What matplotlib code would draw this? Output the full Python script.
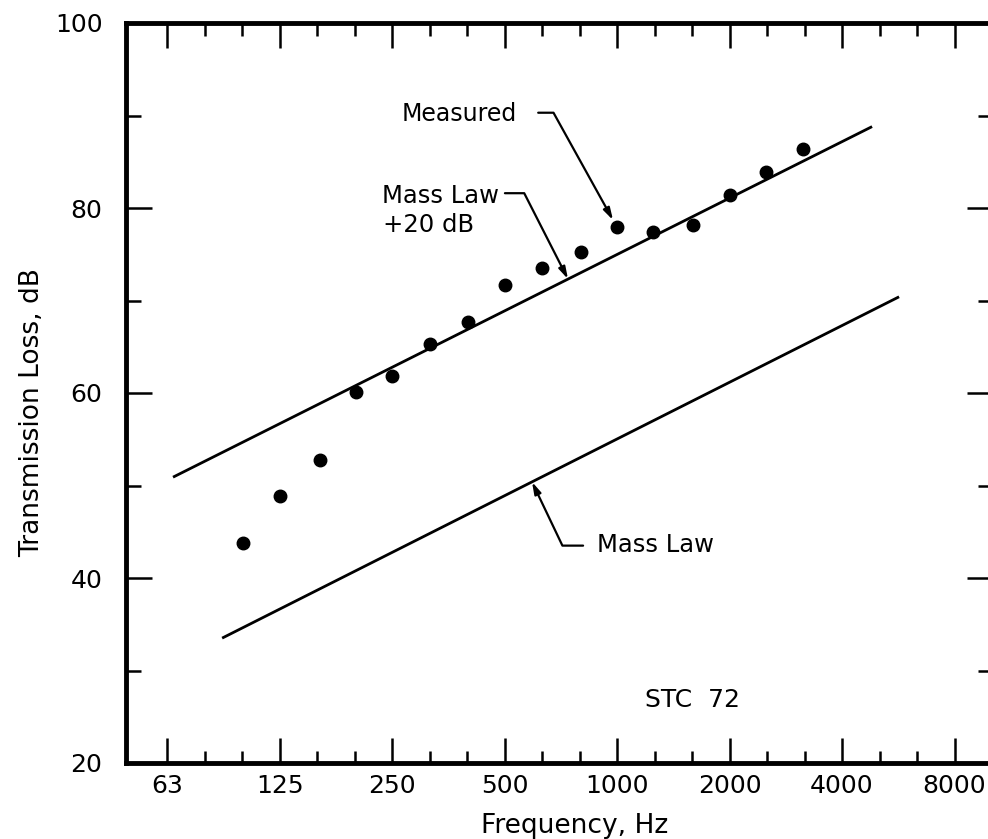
import numpy as np
import matplotlib
matplotlib.use('Agg')
import matplotlib.pyplot as plt
from matplotlib.ticker import FixedLocator, NullFormatter

plt.rcParams['font.family'] = ['DejaVu Sans']

# third-octave band centres and measured transmission loss
freqs = [100, 125, 160, 200, 250, 315, 400, 500, 630, 800,
         1000, 1250, 1600, 2000, 2500, 3150]
tl_measured = [43.8, 48.9, 52.8, 60.1, 61.8, 65.3, 67.7, 71.7, 73.5, 75.2,
               77.9, 77.4, 78.2, 81.4, 83.9, 86.4]

# mass law lines (end points)
ml20_freq = [64.8, 4813]
ml20_tl = [50.9, 88.8]
ml_freq = [87.7, 5684]
ml_tl = [33.5, 70.4]

# octave tick labels
oct_freqs = [62.5, 125, 250, 500, 1000, 2000, 4000, 8000]
oct_labels = ['63', '125', '250', '500', '1000', '2000', '4000', '8000']
third_freqs = [62.5 * 2 ** (n / 3.0) for n in range(1, 23) if n % 3 != 0]


def on_line(f, fs, ts):
    # value of a straight line in log-frequency
    return np.interp(np.log2(f), np.log2(fs), ts)


fig = plt.figure(figsize=(9.88, 8.39), dpi=100)
ax = fig.add_axes([126 / 988, 1 - 763 / 839, 867 / 988, 740 / 839])

ax.plot(ml20_freq, ml20_tl, color='black', lw=2.0, solid_capstyle='butt')
ax.plot(ml_freq, ml_tl, color='black', lw=2.0, solid_capstyle='butt')
ax.plot(freqs, tl_measured, 'o', color='black', markersize=9)

ax.set_xscale('log', base=2)
ax.set_xlim(48.5, 10140)
ax.set_ylim(20, 100)

ax.xaxis.set_major_locator(FixedLocator(oct_freqs))
ax.set_xticklabels(oct_labels)
ax.xaxis.set_minor_locator(FixedLocator(third_freqs))
ax.xaxis.set_minor_formatter(NullFormatter())
ax.yaxis.set_major_locator(FixedLocator([20, 40, 60, 80, 100]))
ax.yaxis.set_minor_locator(FixedLocator([30, 50, 70, 90]))

for sp in ax.spines.values():
    sp.set_linewidth(3.5)

ax.tick_params(axis='x', which='major', direction='in', top=True, length=18, width=1.8,
               labelsize=18, pad=8)
ax.tick_params(axis='x', which='minor', direction='in', top=True, length=9, width=1.8)
ax.tick_params(axis='y', which='major', direction='in', right=True, length=19, width=1.8,
               labelsize=18, pad=17)
ax.tick_params(axis='y', which='minor', direction='in', right=True, length=11, width=1.8)

fig.text(575 / 988, 1 - 833 / 839, 'Frequency, Hz', fontsize=19, ha='center', va='baseline')
fig.text(32 / 988, 1 - 413 / 839, 'Transmission Loss, dB', fontsize=19, rotation=90,
         ha='center', va='center')

# labels with leader lines
ax.text(540, 89.4, 'Measured', fontsize=17, ha='right', va='baseline')
ax.annotate('', xy=(1000, 77.9), xytext=(615, 90.3),
            arrowprops=dict(arrowstyle='-|>,head_length=0.7,head_width=0.2', color='black',
                            lw=1.6, shrinkA=0, shrinkB=6,
                            connectionstyle='angle,angleA=0,angleB=119,rad=0'))

ax.text(235, 80.5, 'Mass Law', fontsize=17.5, ha='left', va='baseline')
ax.text(236, 77.4, '+20 dB', fontsize=17.5, ha='left', va='baseline')
ax.annotate('', xy=(739, on_line(739, ml20_freq, ml20_tl)), xytext=(501, 81.6),
            arrowprops=dict(arrowstyle='-|>,head_length=0.7,head_width=0.2', color='black',
                            lw=1.6, shrinkA=0, shrinkB=0,
                            connectionstyle='angle,angleA=0,angleB=117,rad=0'))

ax.text(884, 42.8, 'Mass Law', fontsize=17.5, ha='left', va='baseline')
ax.annotate('', xy=(592, on_line(592, ml_freq, ml_tl)), xytext=(811, 43.5),
            arrowprops=dict(arrowstyle='-|>,head_length=0.7,head_width=0.2', color='black',
                            lw=1.6, shrinkA=0, shrinkB=0,
                            connectionstyle='angle,angleA=0,angleB=-64.5,rad=0'))

ax.text(1189, 26.1, 'STC  72', fontsize=18, ha='left', va='baseline')

fig.savefig('out.png', dpi=100)
